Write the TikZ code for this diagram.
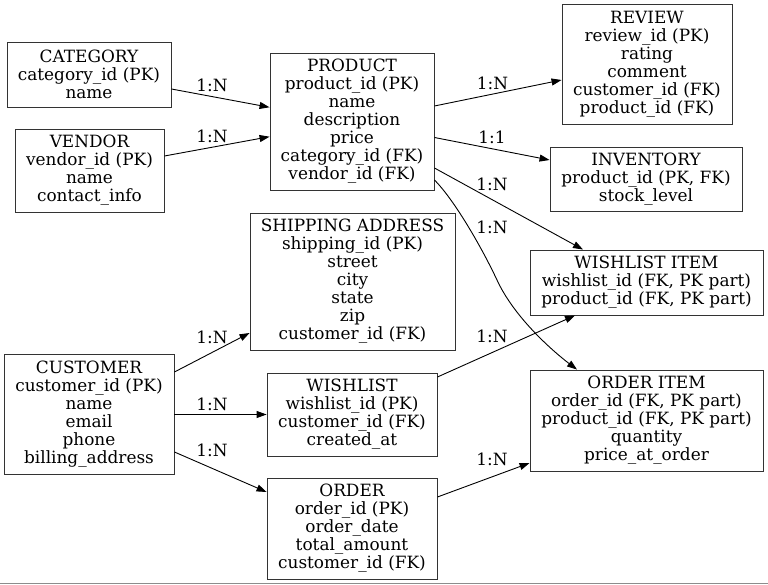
\documentclass[tikz,border=0pt]{standalone}
\usepackage{fontspec}
\setmainfont{DejaVu Serif}
\usetikzlibrary{arrows.meta,calc}
\newcommand{\entfont}{\fontsize{16.9pt}{18pt}\selectfont}
\tikzset{
  ent/.style={draw=black!80, line width=0.9pt, align=center, inner sep=0pt, font=\entfont},
  lab/.style={inner sep=0pt, font=\entfont},
  rel/.style={draw=black, line width=0.9pt, -{Triangle[length=10pt,width=7pt]}}
}
\begin{document}
\begin{tikzpicture}[x=1pt,y=-1pt]
\useasboundingbox (0,0) rectangle (768,585);
% entities
\node[ent, minimum width=164, minimum height=65] (cat) at (89,74.5) {CATEGORY\\category\_id (PK)\\name};
\node[ent, minimum width=149, minimum height=83] (ven) at (89.5,170.5) {VENDOR\\vendor\_id (PK)\\name\\contact\_info};
\node[ent, minimum width=164, minimum height=137] (prod) at (352,121.5) {PRODUCT\\product\_id (PK)\\name\\description\\price\\category\_id (FK)\\vendor\_id (FK)};
\node[ent, minimum width=170, minimum height=120] (rev) at (647,64) {REVIEW\\review\_id (PK)\\rating\\comment\\customer\_id (FK)\\product\_id (FK)};
\node[ent, minimum width=192, minimum height=64] (inv) at (646,179) {INVENTORY\\product\_id (PK, FK)\\stock\_level};
\node[ent, minimum width=233, minimum height=65] (wi) at (646.5,282.5) {WISHLIST ITEM\\wishlist\_id (FK, PK part)\\product\_id (FK, PK part)};
\node[ent, minimum width=205, minimum height=137] (ship) at (352.5,281.5) {SHIPPING ADDRESS\\shipping\_id (PK)\\street\\city\\state\\zip\\customer\_id (FK)};
\node[ent, minimum width=170, minimum height=120] (cust) at (89,414.5) {CUSTOMER\\customer\_id (PK)\\name\\email\\phone\\billing\_address};
\node[ent, minimum width=170, minimum height=83] (wl) at (352,414.5) {WISHLIST\\wishlist\_id (PK)\\customer\_id (FK)\\created\_at};
\node[ent, minimum width=233, minimum height=101] (oi) at (646.5,420.5) {ORDER ITEM\\order\_id (FK, PK part)\\product\_id (FK, PK part)\\quantity\\price\_at\_order};
\node[ent, minimum width=170, minimum height=101] (ord) at (352,528.5) {ORDER\\order\_id (PK)\\order\_date\\total\_amount\\customer\_id (FK)};
% connectors
\draw[rel] ($(cat.east)+(0,14.5)$) -- ($(prod.west)+(0,-14.2)$);
\draw[rel] ($(ven.east)+(0,-14.5)$) -- ($(prod.west)+(0,15.2)$);
\draw[rel] ($(prod.east)+(0,-15.5)$) -- ($(rev.west)+(0,16)$);
\draw[rel] ($(prod.east)+(0,16)$) -- ($(inv.west)+(0,-19)$);
\draw[rel] ($(prod.east)+(0,46.5)$) -- ($(wi.north)+(-63.5,0)$);
\draw[rel] ($(prod.east)+(0,58.5)$) .. controls +(20,20) and +(-15,-32) .. (497,280)
  .. controls +(17,37) and +(-25,-19) .. ($(oi.north)+(-69.5,0)$);
\draw[rel] ($(cust.east)+(0,-42.5)$) -- ($(ship.west)+(0,51.5)$);
\draw[rel] (cust.east) -- (wl.west);
\draw[rel] ($(cust.east)+(0,37.5)$) -- ($(ord.west)+(0,-36.5)$);
\draw[rel] ($(wl.east)+(0,-37.5)$) -- ($(wi.south)+(-71.5,0)$);
\draw[rel] ($(ord.east)+(0,-31.5)$) -- ($(oi.west)+(0,42.5)$);
% labels
\node[lab] (l1) at (212,85) {1:N};
\node[lab] (l2) at (212,136.5) {1:N};
\node[lab] (l3) at (492.5,83) {1:N};
\node[lab] (l4) at (492,137.5) {1:1};
\node[lab] (l5) at (492,184) {1:N};
\node[lab] (l6) at (492,227.5) {1:N};
\node[lab] (l7) at (212,337.5) {1:N};
\node[lab] (l8) at (212,404.5) {1:N};
\node[lab] (l9) at (212,450.5) {1:N};
\node[lab] (l10) at (492,336.5) {1:N};
\node[lab] (l11) at (492,459) {1:N};
% bottom rule
\draw[gray!90, line width=1.5pt] (0,583.5) -- (768,583.5);
\end{tikzpicture}
\end{document}
